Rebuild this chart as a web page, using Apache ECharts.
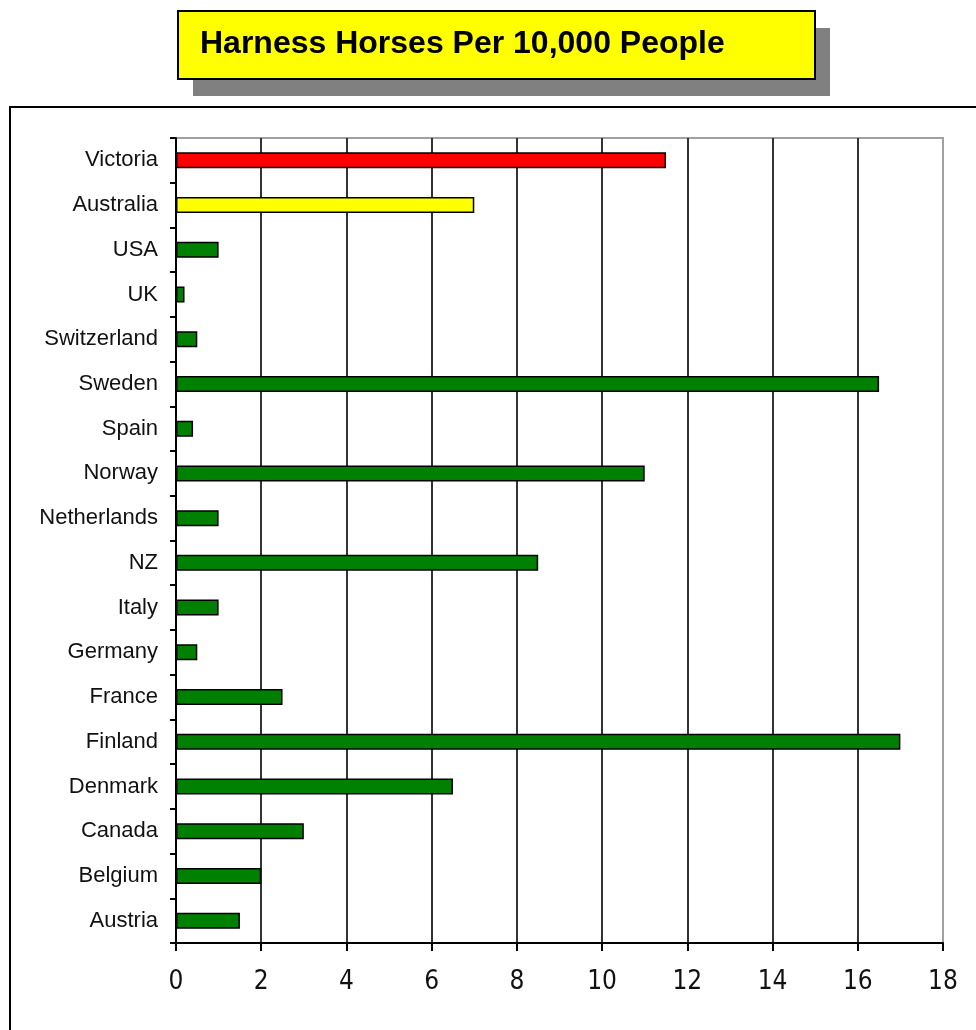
<!DOCTYPE html>
<html>
<head>
<meta charset="utf-8">
<title>Harness Horses Per 10,000 People</title>
<script src="https://cdn.jsdelivr.net/npm/echarts@6/dist/echarts.min.js"></script>
<style>
  html, body { margin: 0; padding: 0; background: #ffffff; }
  #chart { width: 976px; height: 1030px; }
</style>
</head>
<body>
<div id="chart"></div>
<script>
// categories, top to bottom as in the picture
const countries = ["Victoria", "Australia", "USA", "UK", "Switzerland", "Sweden", "Spain",
  "Norway", "Netherlands", "NZ", "Italy", "Germany", "France", "Finland", "Denmark",
  "Canada", "Belgium", "Austria"];
// horses per 10,000 people
const horses = [11.5, 7.0, 1.0, 0.2, 0.5, 16.5, 0.4, 11.0, 1.0, 8.5, 1.0, 0.5, 2.5, 17.0, 6.5, 3.0, 2.0, 1.5];
// bar colours: Victoria red, Australia yellow, the rest green
const barColors = ["#ff0000", "#ffff00", "#008000", "#008000", "#008000", "#008000", "#008000",
  "#008000", "#008000", "#008000", "#008000", "#008000", "#008000", "#008000", "#008000",
  "#008000", "#008000", "#008000"];
const xTicks = [0, 2, 4, 6, 8, 10, 12, 14, 16, 18];

const chart = echarts.init(document.getElementById("chart"));

let option = {
  backgroundColor: "#ffffff",
  animation: false,
  graphic: [
    // outer frame
    { type: "rect", shape: { x: 10, y: 107, width: 1000, height: 1000 },
      style: { fill: "none", stroke: "#000", lineWidth: 2 }, z: 0 },
    // title shadow
    { type: "rect", shape: { x: 193, y: 28, width: 637, height: 68 },
      style: { fill: "#808080" }, z: 1 },
    // title box
    { type: "rect", shape: { x: 178, y: 11, width: 637, height: 68 },
      style: { fill: "#ffff00", stroke: "#000", lineWidth: 2 }, z: 2 },
    { type: "text", x: 200, y: 44, z: 3,
      style: { text: "Harness Horses Per 10,000 People", fill: "#000",
        font: "bold 32px 'Liberation Sans', Arial, sans-serif", textVerticalAlign: "middle" } }
  ],
  grid: {
    left: 176, right: 33, top: 138, bottom: 87,
    show: true, borderColor: "#a0a0a0", borderWidth: 2, backgroundColor: "transparent"
  },
  xAxis: {
    type: "value", min: 0, max: 18, interval: 2,
    axisLine: { show: true, lineStyle: { color: "#000", width: 2 } },
    axisTick: { show: true, length: 8, lineStyle: { color: "#000", width: 2 } },
    axisLabel: {
      margin: 26, color: "#111",
      fontFamily: "'Liberation Sans Narrow', 'DejaVu Sans Condensed', 'Liberation Sans', sans-serif",
      fontSize: 26,
      formatter: v => xTicks.includes(v) ? String(v) : ""
    },
    splitLine: { show: true, showMinLine: false, showMaxLine: false,
      lineStyle: { color: "#333", width: 2 } }
  },
  yAxis: {
    type: "category", data: countries, inverse: true,
    axisLine: { show: true, lineStyle: { color: "#000", width: 2 } },
    axisTick: { show: true, length: 6, lineStyle: { color: "#000", width: 2 } },
    axisLabel: { margin: 18, color: "#111", fontFamily: "'Liberation Sans', Arial, sans-serif", fontSize: 22 },
    splitLine: { show: false }
  },
  series: [
    {
      type: "bar",
      barWidth: 16,
      data: horses.map((v, i) => ({
        value: v,
        itemStyle: { color: barColors[i], borderColor: "#000", borderWidth: 1.5 }
      }))
    }
  ]
};
chart.setOption(option);
</script>
</body>
</html>
